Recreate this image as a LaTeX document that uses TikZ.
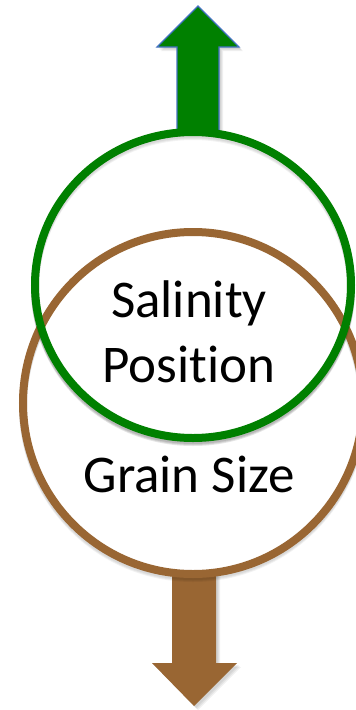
\documentclass[tikz,border=0pt]{standalone}
\usepackage{fontspec}
\setmainfont{Carlito}[Ligatures=NoCommon]
\begin{document}
\begin{tikzpicture}[x=1pt,y=-1pt,
  ring/.style={line width=8pt},
  label/.style={anchor=base,font=\fontsize{53}{63}\selectfont,text=black,inner sep=0pt}]
\definecolor{leafgreen}{RGB}{0,128,0}
\definecolor{earth}{RGB}{153,102,51}
\definecolor{rim}{RGB}{68,114,196}
\useasboundingbox (0,0) rectangle (356,710);
\clip (0,0) rectangle (356,710);
\fill[white] (0,0) rectangle (356,710);

% soft drop shadows under the arrows
\foreach \d in {2,3,4}{
  \fill[black,opacity=0.06] (177+\d,132) -- (177+\d,47+\d) -- (157+\d,47+\d) -- (198+\d,6+\d)
     -- (239+\d,47+\d) -- (219+\d,47+\d) -- (219+\d,132) -- cycle;
  \fill[black,opacity=0.06] (172+\d,574) -- (172+\d,663+\d) -- (152+\d,663+\d) -- (194+\d,706+\d)
     -- (237+\d,663+\d) -- (216+\d,663+\d) -- (216+\d,574) -- cycle;
}

% upward arrow
\draw[fill=leafgreen,draw=rim,line width=1.2pt,line join=miter]
  (177,134) -- (177,47) -- (157,47) -- (198,6) -- (239,47) -- (219,47) -- (219,134) -- cycle;
% downward arrow
\fill[earth]
  (172,572) -- (172,663) -- (152,663) -- (194,706) -- (237,663) -- (216,663) -- (216,572) -- cycle;

% soft drop shadows under the rings
\foreach \d in {2,3,4}{
  \draw[ring,black,opacity=0.05] (193,403+\d) ellipse [x radius=170,y radius=171];
  \draw[ring,black,opacity=0.05] (193,285+\d) ellipse [x radius=158,y radius=153];
}
% keep the upper ring's interior clean
\fill[white] (193,285) ellipse [x radius=154,y radius=149];

% rings
\draw[ring,earth] (193,403) ellipse [x radius=170,y radius=171];
\foreach \d in {2,3,4}{
  \draw[ring,black,opacity=0.05] (193,285+\d) ellipse [x radius=158,y radius=153];
}
\draw[ring,leafgreen] (193,285) ellipse [x radius=158,y radius=153];

% labels
\node[label] (salinity) at (189,317) {Salinity};
\node[label] (position) at (189,382) {Position};
\node[label] (grain) at (189,492) {Grain Size};
\end{tikzpicture}
\end{document}
